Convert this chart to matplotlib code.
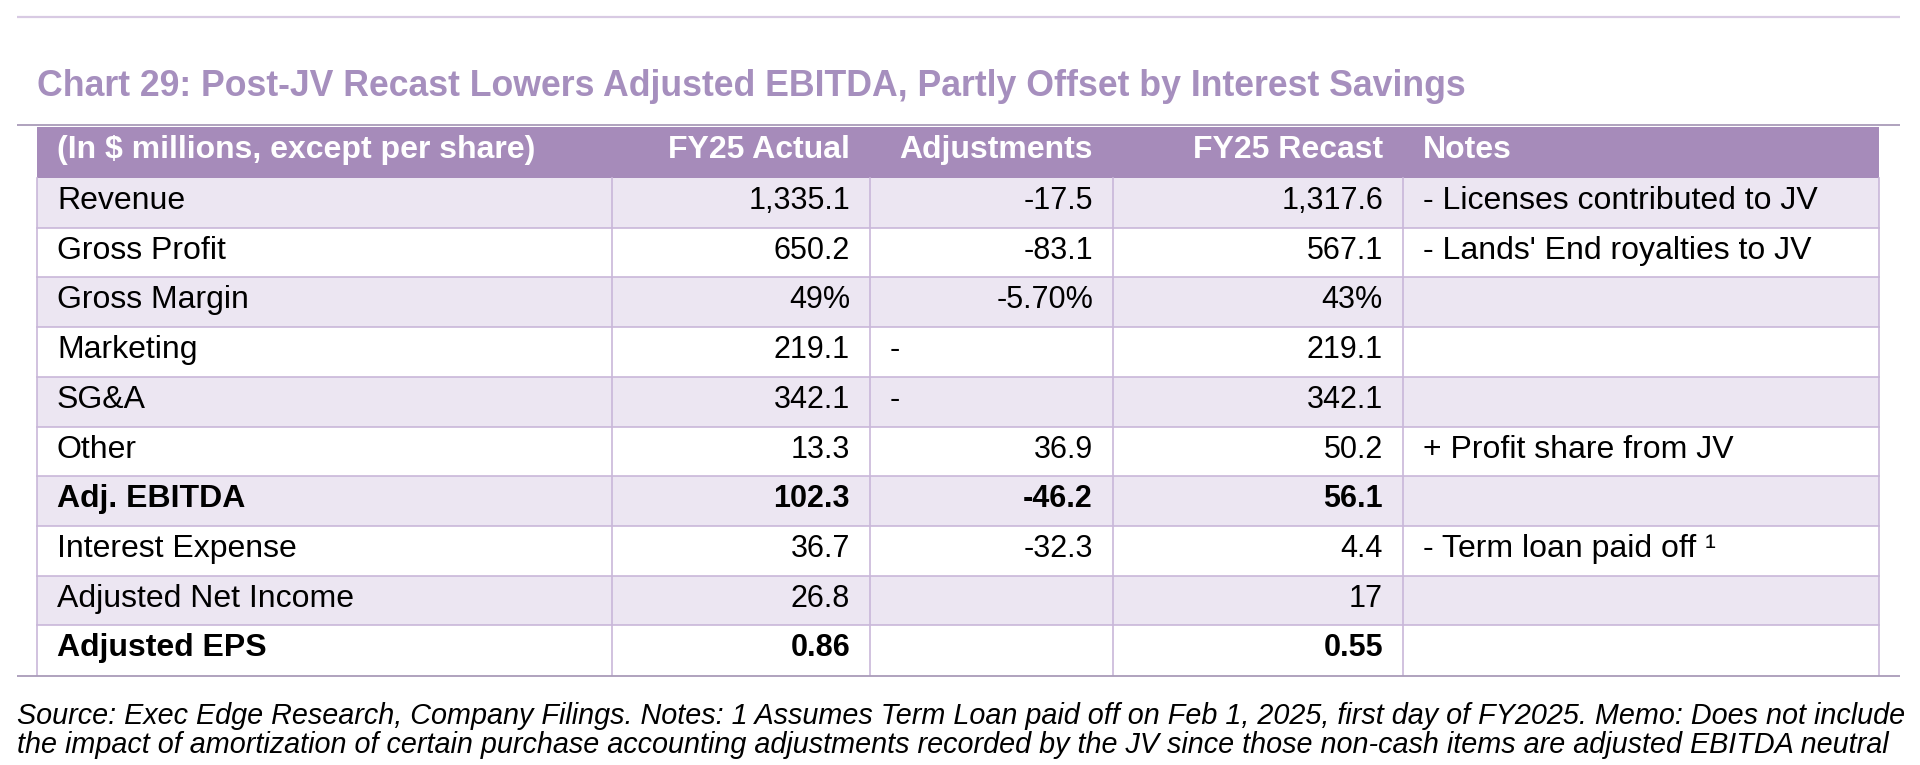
import matplotlib
matplotlib.use("Agg")
import matplotlib.pyplot as plt
from matplotlib.patches import Rectangle

plt.rcParams['font.family'] = ['Liberation Sans', 'DejaVu Sans']

# table data
title = "Chart 29: Post-JV Recast Lowers Adjusted EBITDA, Partly Offset by Interest Savings"
headers = ["(In $ millions, except per share)", "FY25 Actual", "Adjustments", "FY25 Recast", "Notes"]
row_labels = ["Revenue", "Gross Profit", "Gross Margin", "Marketing", "SG&A", "Other",
              "Adj. EBITDA", "Interest Expense", "Adjusted Net Income", "Adjusted EPS"]
fy25_actual = ["1,335.1", "650.2", "49%", "219.1", "342.1", "13.3", "102.3", "36.7", "26.8", "0.86"]
adjustments = ["-17.5", "-83.1", "-5.70%", "-", "-", "36.9", "-46.2", "-32.3", "", ""]
fy25_recast = ["1,317.6", "567.1", "43%", "219.1", "342.1", "50.2", "56.1", "4.4", "17", "0.55"]
notes = ["- Licenses contributed to JV", "- Lands' End royalties to JV", "", "", "",
         "+ Profit share from JV", "", "- Term loan paid off \u00b9", "", ""]
bold_rows = ["Adj. EBITDA", "Adjusted EPS"]
source = ["Source: Exec Edge Research, Company Filings. Notes: 1 Assumes Term Loan paid off on Feb 1, 2025, first day of FY2025. Memo: Does not include",
          "the impact of amortization of certain purchase accounting adjustments recorded by the JV since those non-cash items are adjusted EBITDA neutral"]

# colours
purple = "#a68bba"
title_col = "#a68fbe"
band = "#ece6f2"
grid = "#c9b7d9"

W, H = 1920, 765
fig = plt.figure(figsize=(W / 100, H / 100), dpi=100)
ax = fig.add_axes([0, 0, 1, 1])
ax.set_xlim(0, W)
ax.set_ylim(H, 0)
ax.axis("off")

# layout (pixels)
col_x = [37, 612, 870, 1113, 1403, 1879]
head_top, head_bot = 127, 178
row_h = (675 - head_bot) / len(row_labels)
pad = 20
fs_txt, fs_num = 23, 22

ax.plot([17, 1900], [16.5, 16.5], color="#d8cae3", lw=1.6, solid_capstyle="butt")
ax.text(37, 96, title, fontsize=25.7, fontweight="bold", color=title_col, va="baseline")
ax.plot([17, 1900], [125, 125], color="#a99bb9", lw=1.3, solid_capstyle="butt")

# header
ax.add_patch(Rectangle((col_x[0], head_top), col_x[-1] - col_x[0], head_bot - head_top,
                       facecolor=purple, edgecolor="none"))
hb = head_top + 0.61 * (head_bot - head_top)
for j, h in enumerate(headers):
    if j in (0, 4):
        ax.text(col_x[j] + pad, hb, h, fontsize=23, fontweight="bold", color="white",
                va="baseline", ha="left")
    else:
        ax.text(col_x[j + 1] - pad, hb, h, fontsize=23, fontweight="bold", color="white",
                va="baseline", ha="right")

# body
for i, lab in enumerate(row_labels):
    top = head_bot + i * row_h
    if i % 2 == 0:
        ax.add_patch(Rectangle((col_x[0], top), col_x[-1] - col_x[0], row_h,
                               facecolor=band, edgecolor="none"))
    fw = "bold" if lab in bold_rows else "normal"
    base = top + 0.625 * row_h
    vals = [fy25_actual[i], adjustments[i], fy25_recast[i]]
    ax.text(col_x[0] + pad, base, lab, fontsize=fs_txt, fontweight=fw, va="baseline")
    for j, v in enumerate(vals, start=1):
        if v == "-":
            ax.text(col_x[j] + pad, base, v, fontsize=fs_num, fontweight=fw, va="baseline", ha="left")
        else:
            ax.text(col_x[j + 1] - pad, base, v, fontsize=fs_num, fontweight=fw, va="baseline", ha="right")
    ax.text(col_x[4] + pad, base, notes[i], fontsize=fs_txt, fontweight=fw, va="baseline")

# grid lines
for i in range(1, len(row_labels)):
    y = head_bot + i * row_h
    ax.plot([col_x[0], col_x[-1]], [y, y], color=grid, lw=1.2)
for x in col_x:
    ax.plot([x, x], [head_bot, 675], color=grid, lw=1.2)

ax.plot([17, 1900], [675.5, 675.5], color="#a99bb9", lw=1.3, solid_capstyle="butt")

ax.text(17, 724, source[0], fontsize=20.7, style="italic", va="baseline")
ax.text(17, 753, source[1], fontsize=20.7, style="italic", va="baseline")

fig.savefig("out.png", dpi=100)
